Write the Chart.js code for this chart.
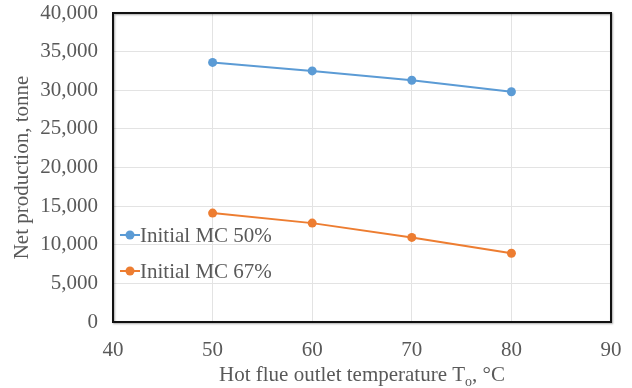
<!DOCTYPE html>
<html>
<head>
<meta charset="utf-8">
<script src="https://cdn.jsdelivr.net/npm/chart.js@4"></script>
<style>
  html, body { margin: 0; padding: 0; background: #fff; }
  #wrap { width: 632px; height: 388px; position: relative; }
</style>
</head>
<body>
<div id="wrap"><canvas id="netProductionChart"></canvas></div>
<script>
// outlet temperature, degC
const temperatures = [50, 60, 70, 80];
// net production, tonne
const mc50Values = [33600, 32500, 31300, 29800];
const mc67Values = [14100, 12800, 10950, 8900];
const seriesNames = ['Initial MC 50%', 'Initial MC 67%'];
const yAxisTitle = 'Net production, tonne';

const FONT = '"Liberation Serif", "Times New Roman", serif';
const TEXT_COLOR = '#595959';
const BLUE = '#5B9BD5';
const ORANGE = '#ED7D31';

function toPoints(values) {
  return temperatures.map((t, i) => ({ x: t, y: values[i] }));
}

// border round the plot + hand drawn titles and legend (excel style)
const excelBits = {
  id: 'excelBits',
  afterDraw(chart) {
    const ctx = chart.ctx;
    const a = chart.chartArea;
    ctx.save();

    // plot frame
    ctx.shadowColor = 'rgba(0,0,0,0.35)';
    ctx.shadowBlur = 2;
    ctx.shadowOffsetX = 1;
    ctx.shadowOffsetY = 1;
    ctx.strokeStyle = '#111';
    ctx.lineWidth = 2;
    ctx.strokeRect(a.left, a.top, a.right - a.left, a.bottom - a.top);
    ctx.shadowColor = 'transparent';

    // legend inside plot
    const colors = [BLUE, ORANGE];
    const rows = [235, 271];
    ctx.font = '21px ' + FONT;
    ctx.textBaseline = 'middle';
    ctx.textAlign = 'left';
    seriesNames.forEach((name, i) => {
      const y = rows[i];
      ctx.strokeStyle = colors[i];
      ctx.lineWidth = 2;
      ctx.beginPath();
      ctx.moveTo(120, y);
      ctx.lineTo(140, y);
      ctx.stroke();
      ctx.fillStyle = colors[i];
      ctx.beginPath();
      ctx.arc(130, y, 4.5, 0, Math.PI * 2);
      ctx.fill();
      ctx.fillStyle = TEXT_COLOR;
      ctx.fillText(name, 140, y + 1);
    });

    // y axis title
    ctx.save();
    ctx.translate(22, (a.top + a.bottom) / 2);
    ctx.rotate(-Math.PI / 2);
    ctx.textAlign = 'center';
    ctx.fillStyle = TEXT_COLOR;
    ctx.font = '21px ' + FONT;
    ctx.fillText(yAxisTitle, 0, 0);
    ctx.restore();

    // x axis title with subscript o
    const part1 = 'Hot flue outlet temperature T';
    const sub = 'o';
    const part2 = ', \u00B0C';
    ctx.font = '21px ' + FONT;
    const w1 = ctx.measureText(part1).width;
    const w3 = ctx.measureText(part2).width;
    ctx.font = '14px ' + FONT;
    const w2 = ctx.measureText(sub).width;
    const total = w1 + w2 + w3;
    let x = (a.left + a.right) / 2 - total / 2;
    const base = 381;
    ctx.textBaseline = 'alphabetic';
    ctx.fillStyle = TEXT_COLOR;
    ctx.font = '21px ' + FONT;
    ctx.fillText(part1, x, base);
    x += w1;
    ctx.font = '14px ' + FONT;
    ctx.fillText(sub, x, base + 5);
    x += w2;
    ctx.font = '21px ' + FONT;
    ctx.fillText(part2, x, base);

    ctx.restore();
  }
};

const data = {
  datasets: [
    {
      label: seriesNames[0],
      data: toPoints(mc50Values),
      borderColor: BLUE,
      backgroundColor: BLUE,
      borderWidth: 2,
      pointRadius: 4.5,
      pointBorderWidth: 0,
      tension: 0
    },
    {
      label: seriesNames[1],
      data: toPoints(mc67Values),
      borderColor: ORANGE,
      backgroundColor: ORANGE,
      borderWidth: 2,
      pointRadius: 4.5,
      pointBorderWidth: 0,
      tension: 0
    }
  ]
};

const config = {
  type: 'line',
  data: data,
  options: {
    responsive: true,
    maintainAspectRatio: false,
    animation: false,
    layout: { padding: { top: 13, right: 21, left: 0, bottom: 0 } },
    plugins: {
      legend: { display: false },
      tooltip: { enabled: false }
    },
    scales: {
      x: {
        type: 'linear',
        min: 40,
        max: 90,
        ticks: {
          stepSize: 10,
          color: TEXT_COLOR,
          font: { family: FONT, size: 21 },
          padding: 16
        },
        grid: { color: '#e3e3e3', drawTicks: false },
        border: { display: false },
        afterFit: (scale) => {
          scale.height = 66;
          scale.paddingLeft = 0;
          scale.paddingRight = 0;
        }
      },
      y: {
        min: 0,
        max: 40000,
        ticks: {
          stepSize: 5000,
          color: TEXT_COLOR,
          font: { family: FONT, size: 21 },
          padding: 15,
          callback: v => v.toLocaleString('en-US')
        },
        grid: { color: '#e3e3e3', drawTicks: false },
        border: { display: false },
        afterFit: (scale) => {
          scale.width = 113;
          scale.paddingTop = 0;
          scale.paddingBottom = 0;
        }
      }
    }
  },
  plugins: [excelBits]
};

new Chart(document.getElementById('netProductionChart'), config);
</script>
</body>
</html>
